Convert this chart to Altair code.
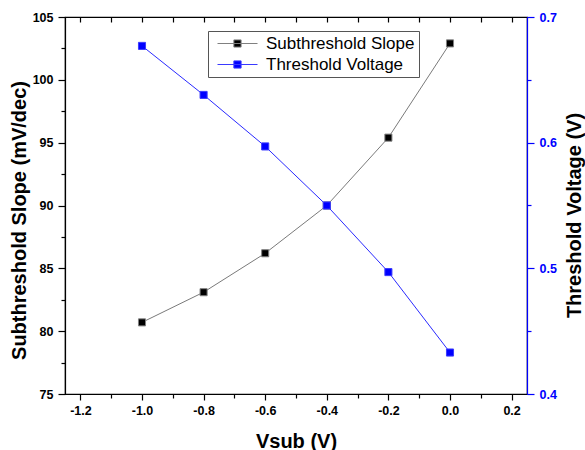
import altair as alt
import pandas as pd

# ---- data ----
vsub = [-1.0, -0.8, -0.6, -0.4, -0.2, 0.0]
slope = [80.7, 83.1, 86.2, 90.0, 95.4, 102.9]          # mV/dec
vth = [0.677, 0.638, 0.597, 0.550, 0.497, 0.433]       # V
series_names = ["Subthreshold Slope", "Threshold Voltage"]

x_ticks = [-1.2, -1.1, -1.0, -0.9, -0.8, -0.7, -0.6, -0.5, -0.4, -0.3, -0.2, -0.1, 0.0, 0.1, 0.2]
left_ticks = [75, 77.5, 80, 82.5, 85, 87.5, 90, 92.5, 95, 97.5, 100, 102.5, 105]
right_ticks = [0.4, 0.45, 0.5, 0.55, 0.6, 0.65, 0.7]

FONT = "Liberation Sans"
BLUE = "#0000ff"

df_ss = pd.DataFrame({"Vsub": vsub, "value": slope, "series": series_names[0]})
df_vt = pd.DataFrame({"Vsub": vsub, "value": vth, "series": series_names[1]})

x_scale = alt.Scale(domain=[-1.25, 0.25], nice=False, zero=False)
fill_scale = alt.Scale(domain=series_names, range=["#000000", BLUE])
stroke_scale = alt.Scale(domain=series_names, range=["#808080", "#3a3aff"])

major_x = "abs(datum.value*5 - round(datum.value*5)) < 0.001"
major_l = "abs(datum.value/5 - round(datum.value/5)) < 0.001"
major_r = "abs(datum.value*10 - round(datum.value*10)) < 0.001"

common_axis = dict(
    grid=False, labelFont=FONT, labelFontSize=12.5, labelFontWeight="bold",
    titleFont=FONT, titleFontSize=20, titleFontWeight="bold",
    labelOverlap=False, labelFlush=False, domainWidth=1.2, tickWidth=1.2,
    titleBaseline="alphabetic",
)

x_axis = alt.Axis(
    orient="bottom", values=x_ticks, title="Vsub (V)",
    labelExpr=f"{major_x} ? replace(format(datum.value, '.1f'), '\u2212', '-') : ''",
    tickSize={"condition": {"test": major_x, "value": 6}, "value": 4},
    labelPadding=4, titleY=53, titleColor="black", labelColor="black",
    tickColor="black", domainColor="black", **common_axis,
)
y_left = alt.Axis(
    orient="left", values=left_ticks, title="Subthreshold Slope (mV/dec)",
    labelExpr=f"{major_l} ? format(datum.value, 'd') : ''",
    tickSize={"condition": {"test": major_l, "value": 7}, "value": 4},
    labelPadding=5, titleX=-40, titleY=203, titleAngle=270,
    titleColor="black", labelColor="black", tickColor="black", domainColor="black",
    **common_axis,
)
y_right = alt.Axis(
    orient="right", values=right_ticks, title="Threshold Voltage (V)",
    labelExpr=f"{major_r} ? format(datum.value, '.1f') : ''",
    tickSize={"condition": {"test": major_r, "value": 7}, "value": 4},
    labelPadding=5, titleX=53, titleY=198, titleAngle=270,
    titleColor="black", labelColor=BLUE, tickColor=BLUE, domainColor=BLUE,
    **common_axis,
)
x_top = alt.Axis(
    orient="top", values=x_ticks, labels=False, title=None, domain=False,
    tickSize=5, offset=-5, tickColor="black", tickWidth=1.2, grid=False,
)

legend = alt.Legend(
    orient="none", legendX=143, legendY=14, title=None,
    symbolType="M-1,0H5.67M1.73,-0.6H2.93V0.6H1.73Z",
    symbolSize=144, symbolStrokeWidth=1, symbolOffset=3,
    labelFont=FONT, labelFontSize=17, labelFontWeight="normal", labelColor="black",
    labelOffset=34, padding=4, rowPadding=3,
    strokeColor="#555555", fillColor="white", cornerRadius=0,
)

X = alt.X("Vsub:Q", scale=x_scale, axis=x_axis)
X_none = alt.X("Vsub:Q", scale=x_scale, axis=None)
Y_left = alt.Y("value:Q", scale=alt.Scale(domain=[75, 105], nice=False, zero=False), axis=y_left)
Y_right = alt.Y("value:Q", scale=alt.Scale(domain=[0.4, 0.7], nice=False, zero=False), axis=y_right)

line_ss = alt.Chart(df_ss).mark_line(strokeWidth=1, color="#7a7a7a").encode(x=X, y=Y_left)
pts_ss = alt.Chart(df_ss).mark_point(shape="square", filled=True, size=50, strokeWidth=1, opacity=1).encode(
    x=X, y=Y_left,
    fill=alt.Fill("series:N", scale=fill_scale, legend=legend),
    stroke=alt.Stroke("series:N", scale=stroke_scale, legend=legend),
)
line_vt = alt.Chart(df_vt).mark_line(strokeWidth=1, color="#2a2aff").encode(x=X_none, y=Y_right)
pts_vt = alt.Chart(df_vt).mark_point(shape="square", filled=True, size=50, strokeWidth=1, opacity=1).encode(
    x=X_none, y=Y_right,
    fill=alt.Fill("series:N", scale=fill_scale, legend=legend),
    stroke=alt.Stroke("series:N", scale=stroke_scale, legend=legend),
)
top = alt.Chart(df_ss).mark_point(opacity=0).encode(
    x=alt.X("Vsub:Q", scale=x_scale, axis=x_top),
)

ss = alt.layer(line_ss, pts_ss)
vt = alt.layer(line_vt, pts_vt)

chart = (
    alt.layer(ss, vt, top)
    .resolve_scale(y="independent")
    .resolve_axis(x="independent", y="independent")
    .properties(
        width=462, height=377,
        autosize=alt.AutoSizeParams(type="none"),
        padding={"left": 65, "top": 17, "right": 58, "bottom": 56},
        background="white",
    )
    .configure_view(stroke="black", strokeWidth=1.2)
)

chart.save("out.html", embed_options={"renderer": "svg", "actions": False})
